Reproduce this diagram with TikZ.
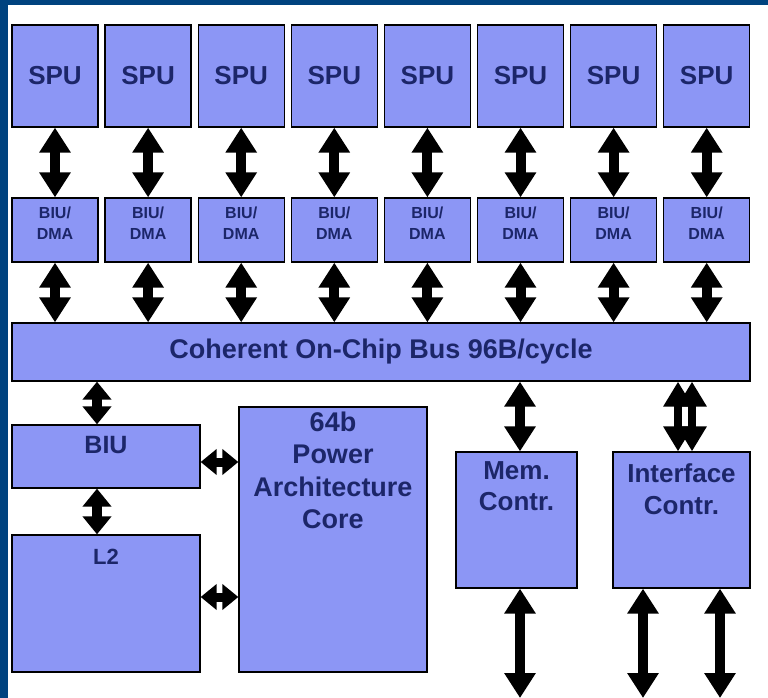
\documentclass[tikz,border=0pt]{standalone}
\usepackage{fontspec}
\setmainfont{Liberation Sans}
\usetikzlibrary{arrows.meta,calc}
\definecolor{bgblue}{RGB}{0,67,127}
\definecolor{boxfill}{RGB}{140,150,245}
\definecolor{txt}{RGB}{28,38,105}
\begin{document}
\begin{tikzpicture}[x=1pt,y=-1pt,
  box/.style={draw=black, line width=1.3pt, fill=boxfill, inner sep=0pt, text=txt},
  lbl/.style={anchor=north, inner sep=0pt, align=center, text=txt},
  big/.style={line width=10pt, {Triangle[length=25pt,width=30pt]}-{Triangle[length=25pt,width=30pt]}},
  pair/.style={line width=8pt, {Triangle[length=25pt,width=28pt]}-{Triangle[length=25pt,width=28pt]}},
  small/.style={line width=10pt, {Triangle[length=18pt,width=28pt]}-{Triangle[length=18pt,width=28pt]}},
  smallh/.style={line width=9pt, {Triangle[length=16pt,width=25pt]}-{Triangle[length=16pt,width=25pt]}}]
\fill[bgblue] (0,0) rectangle (768,698);
\fill[white] (8,5) rectangle (768,698);
\useasboundingbox (0,0) rectangle (768,698);

% bus
\node[box, minimum width=738pt, minimum height=58pt,
  font=\bfseries\fontsize{27}{27}\selectfont] (bus) at (381,352) {\raisebox{3pt}{Coherent On-Chip Bus 96B/cycle}};

% SPUs and BIU/DMAs
\foreach \i in {1,...,8} {
  \pgfmathsetmacro\cx{55+93.1*(\i-1)}
  \node[box, minimum width=86pt, minimum height=102pt,
    font=\bfseries\fontsize{26}{26}\selectfont] (spu\i) at (\cx,76) {SPU};
  \node[box, minimum width=86pt, minimum height=64pt,
    label={[lbl, yshift=-9pt, font=\bfseries\fontsize{16}{21.5}\selectfont]north:BIU/\\DMA}] (dma\i) at (\cx,230) {};
  \draw[big] (spu\i.south) -- (dma\i.north);
  \draw[big] (dma\i.south) -- (dma\i.south |- bus.north);
}

% lower boxes
\node[box, minimum width=188pt, minimum height=63pt,
  label={[lbl, yshift=-12pt, font=\bfseries\fontsize{25}{25}\selectfont]north:BIU}] (biu) at (106,456.5) {};
\node[box, minimum width=188pt, minimum height=137pt,
  label={[lbl, yshift=-15pt, font=\bfseries\fontsize{22}{22}\selectfont]north:L2}] (l2) at (106,603.5) {};
\node[box, minimum width=188pt, minimum height=265pt,
  label={[lbl, yshift=-5pt, font=\bfseries\fontsize{27}{32.5}\selectfont]north:64b\\Power\\Architecture\\Core}] (core) at (333,539.5) {};
\node[box, minimum width=121pt, minimum height=136pt,
  label={[lbl, yshift=-10pt, font=\bfseries\fontsize{26}{31}\selectfont]north:Mem.\\Contr.}] (mem) at (516.5,520) {};
\node[box, minimum width=137pt, minimum height=136pt,
  label={[lbl, yshift=-12pt, font=\bfseries\fontsize{26}{32}\selectfont]north:Interface\\Contr.}] (iface) at (681.5,520) {};

% connector positions
\coordinate (bx) at (97,0);
\coordinate (hy1) at (0,462);
\coordinate (hy2) at (0,597);
\coordinate (mx) at (520,0);
\coordinate (ia) at (678,0);
\coordinate (ib) at (692,0);
\coordinate (memout) at (520,698);
\coordinate (ifout1) at (643,698);
\coordinate (ifout2) at (720,698);

\draw[small] (bus.south -| bx) -- (biu.north -| bx);
\draw[small] (biu.south -| bx) -- (l2.north -| bx);
\draw[smallh] (biu.east |- hy1) -- (core.west |- hy1);
\draw[smallh] (l2.east |- hy2) -- (core.west |- hy2);
\draw[big] (bus.south -| mx) -- (mem.north -| mx);
\draw[pair] (bus.south -| ia) -- (iface.north -| ia);
\draw[pair] (bus.south -| ib) -- (iface.north -| ib);
\draw[big] (mem.south -| memout) -- (memout);
\draw[big] (iface.south -| ifout1) -- (ifout1);
\draw[big] (iface.south -| ifout2) -- (ifout2);
\end{tikzpicture}
\end{document}
